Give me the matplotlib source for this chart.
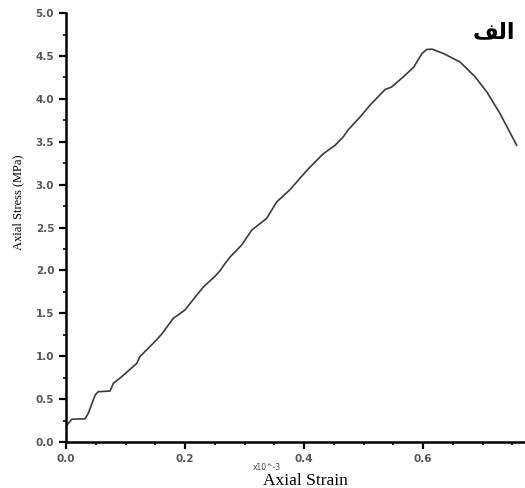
import matplotlib
matplotlib.use("Agg")
from matplotlib import pyplot as plt
from matplotlib.ticker import MultipleLocator
import numpy as np

# strain (x10^-3) and stress (MPa)
strain = np.array([0.0, 0.001, 0.0095, 0.032, 0.0375, 0.049, 0.054, 0.074, 0.0795,
                   0.0935, 0.119, 0.124, 0.152, 0.161, 0.180, 0.200, 0.217, 0.231,
                   0.250, 0.259, 0.267, 0.276, 0.295, 0.312, 0.337, 0.354, 0.376,
                   0.405, 0.432, 0.452, 0.466, 0.474, 0.494, 0.511, 0.536, 0.547,
                   0.567, 0.584, 0.598, 0.606, 0.615, 0.634, 0.662, 0.687, 0.707,
                   0.729, 0.757])
stress = np.array([0.15, 0.19, 0.265, 0.27, 0.335, 0.548, 0.586, 0.594, 0.684,
                   0.761, 0.917, 0.994, 1.19, 1.26, 1.44, 1.54, 1.69, 1.81,
                   1.93, 2.0, 2.08, 2.16, 2.296, 2.47, 2.607, 2.80, 2.94,
                   3.17, 3.36, 3.46, 3.56, 3.64, 3.79, 3.93, 4.11, 4.14,
                   4.26, 4.37, 4.53, 4.577, 4.58, 4.53, 4.43, 4.26, 4.08,
                   3.83, 3.46])

xticks = [0.0, 0.2, 0.4, 0.6]
yticks = [0.0, 0.5, 1.0, 1.5, 2.0, 2.5, 3.0, 3.5, 4.0, 4.5, 5.0]

fig = plt.figure(figsize=(5.25, 4.88), dpi=100)
ax = fig.add_axes([0.1257, 0.0943, 0.8743, 0.8787])

ax.plot(strain, stress, color='#3a3a3a', lw=1.2)

ax.set_xticks(xticks, labels=['%.1f' % v for v in xticks], fontweight='bold')
ax.set_yticks(yticks, labels=['%.1f' % v for v in yticks], fontweight='bold')
ax.xaxis.set_minor_locator(MultipleLocator(0.05))
ax.yaxis.set_minor_locator(MultipleLocator(0.25))
ax.set_xlim(0, 0.771)
ax.set_ylim(0, 5.0)

for s in ['top', 'right']:
    ax.spines[s].set_visible(False)
for s in ['left', 'bottom']:
    ax.spines[s].set_linewidth(1.8)

ax.tick_params(which='major', direction='out', length=5, width=1.6,
               labelsize=7.5, labelcolor='#555555')
ax.tick_params(which='minor', direction='out', length=2.5, width=1.2)

ax.set_ylabel('Axial Stress (MPa)', family='Liberation Serif', fontsize=9)
ax.yaxis.set_label_coords(-0.09, 0.56)
fig.text(0.581, 0.006, 'Axial Strain', family='Liberation Serif', fontsize=12.5,
         ha='center', va='baseline')
fig.text(0.508, 0.033, 'x10^-3', fontsize=5.5, color='#444444', ha='center', va='bottom')

# Arabic label, written in presentation forms so it shows joined
fig.text(0.981, 0.914, '\uFED2\uFEDF\uFE8D', fontsize=16, fontweight='bold',
         family=['DejaVu Sans'], ha='right', va='bottom')

fig.savefig('out.png', dpi=100)
